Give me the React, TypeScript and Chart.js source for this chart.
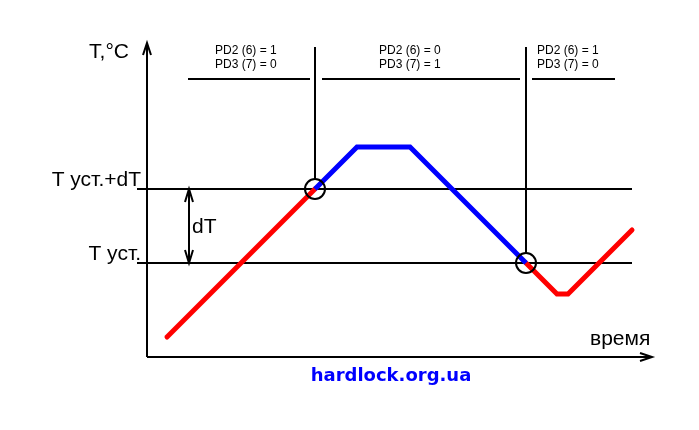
import React, { useEffect, useRef } from "react";
import { Chart, registerables } from "chart.js";

Chart.register(...registerables);

// Diagram values (time units along x, temperature units along y, origin at the axes' corner)
const T_SET = 94;
const DT = 74;
const T_SET_DT = T_SET + DT;

const heatTime1 = [20, 168];
const heatTemp1 = [20, 168];
const coolTime = [168, 210, 263, 379];
const coolTemp = [168, 210, 210, 94];
const heatTime2 = [379, 410, 421, 485];
const heatTemp2 = [94, 63, 63, 127];

const switchTimes = [168, 379];
const switchTemps = [T_SET_DT, T_SET];

const refLineTimes = [-10, 485];
const axisTimeMax = 505;
const axisTempMax = 314;
const stateLineTemp = 278;
const stateLineTop = 310;
const stateSegStart = [41, 175, 385];
const stateSegEnd = [163, 373, 468];
const stateLabelTime = [68, 232, 390];
const statePD2 = ["PD2 (6) = 1", "PD2 (6) = 0", "PD2 (6) = 1"];
const statePD3 = ["PD3 (7) = 0", "PD3 (7) = 1", "PD3 (7) = 0"];
const dTArrowTime = 42;

const levelLabels = ["T уст.+dT", "T уст."];
const levelValues = [T_SET_DT, T_SET];
const yTitle = "T,°C";
const xTitle = "время";
const siteText = "hardlock.org.ua";

const pts = (xs: number[], ys: number[]) => xs.map((x, i) => ({ x, y: ys[i] }));

const FONT = "'Liberation Sans', Arial, sans-serif";

const decorPlugin = {
  id: "decor",
  afterDatasetsDraw(chart: any) {
    const ctx = chart.ctx as CanvasRenderingContext2D;
    const xs = chart.scales.x;
    const ys = chart.scales.y;
    const px = (v: number) => xs.getPixelForValue(v);
    const py = (v: number) => ys.getPixelForValue(v);
    ctx.save();
    ctx.strokeStyle = "#000";
    ctx.lineWidth = 2;
    ctx.lineCap = "butt";
    const poly = (p: number[][]) => {
      ctx.beginPath();
      ctx.moveTo(p[0][0], p[0][1]);
      for (let i = 1; i < p.length; i++) ctx.lineTo(p[i][0], p[i][1]);
      ctx.stroke();
    };
    // y-axis arrow
    const yx = px(0), yt = py(axisTempMax);
    poly([[yx - 4, yt + 12], [yx, yt], [yx + 4, yt + 12]]);
    // x-axis arrow
    const xx = px(axisTimeMax), xy = py(0);
    poly([[xx - 12, xy - 4], [xx, xy], [xx - 12, xy + 4]]);
    // dT arrows
    const ax = px(dTArrowTime);
    const aTop = py(T_SET_DT), aBot = py(T_SET);
    poly([[ax - 4, aTop + 13], [ax, aTop], [ax + 4, aTop + 13]]);
    poly([[ax - 4, aBot - 13], [ax, aBot], [ax + 4, aBot - 13]]);

    // texts
    ctx.fillStyle = "#000";
    ctx.font = `21px ${FONT}`;
    ctx.textBaseline = "alphabetic";
    ctx.textAlign = "right";
    ctx.fillText(yTitle, px(0) - 18, py(axisTempMax) + 15);
    levelLabels.forEach((l, i) => {
      ctx.fillText(l, px(-6), py(levelValues[i]) - 3);
    });
    ctx.textAlign = "left";
    ctx.fillText("dT", ax + 3, py((T_SET + T_SET_DT) / 2) + 7);
    ctx.fillText(xTitle, px(axisTimeMax) - 62, py(0) - 12);

    ctx.font = `12px ${FONT}`;
    ctx.textBaseline = "middle";
    stateLabelTime.forEach((t, i) => {
      ctx.fillText(statePD2[i], px(t), py(stateLineTop) + 4);
      ctx.fillText(statePD3[i], px(t), py(stateLineTop) + 18);
    });

    ctx.font = `bold 18px 'DejaVu Sans', sans-serif`;
    ctx.fillStyle = "#0000ff";
    ctx.textAlign = "center";
    ctx.fillText(siteText, px(244), py(0) + 19);
    ctx.restore();
  },
};

export default function App() {
  const ref = useRef<HTMLCanvasElement>(null);
  useEffect(() => {
    if (!ref.current) return;
    const black = (data: any) => ({
      data,
      borderColor: "#000",
      borderWidth: 2,
      pointRadius: 0,
      showLine: true,
      fill: false,
    });
    const datasets: any[] = [
      {
        data: pts(switchTimes, switchTemps),
        showLine: false,
        pointRadius: 10,
        pointBorderWidth: 2,
        pointBorderColor: "#000",
        pointBackgroundColor: "rgba(0,0,0,0)",
      },
      {
        data: pts(coolTime, coolTemp),
        showLine: true,
        borderColor: "#0000ff",
        borderWidth: 5,
        borderCapStyle: "butt",
        borderJoinStyle: "miter",
        pointRadius: 0,
      },
      {
        data: pts(heatTime1, heatTemp1),
        showLine: true,
        borderColor: "#ff0000",
        borderWidth: 5,
        borderCapStyle: "round",
        pointRadius: 0,
      },
      {
        data: pts(heatTime2, heatTemp2),
        showLine: true,
        borderColor: "#ff0000",
        borderWidth: 5,
        borderCapStyle: "round",
        borderJoinStyle: "miter",
        pointRadius: 0,
      },
      black(pts(refLineTimes, [T_SET_DT, T_SET_DT])),
      black(pts(refLineTimes, [T_SET, T_SET])),
      black(pts([0, 0], [0, axisTempMax])),
      black(pts([0, axisTimeMax], [0, 0])),
      black(pts([dTArrowTime, dTArrowTime], [T_SET, T_SET_DT])),
      black(pts([switchTimes[0], switchTimes[0]], [switchTemps[0] + 10, stateLineTop])),
      black(pts([switchTimes[1], switchTimes[1]], [switchTemps[1] + 10, stateLineTop])),
      ...stateSegStart.map((s, i) => black(pts([s, stateSegEnd[i]], [stateLineTemp, stateLineTemp]))),
    ];
    const chart = new Chart(ref.current, {
      type: "scatter",
      data: { datasets },
      options: {
        responsive: false,
        animation: false,
        layout: { padding: 0, autoPadding: false },
        plugins: { legend: { display: false }, tooltip: { enabled: false } },
        scales: {
          x: { type: "linear", display: false, min: -147, max: 552 },
          y: { type: "linear", display: false, min: -73, max: 357 },
        },
      },
      plugins: [decorPlugin],
    } as any);
    return () => chart.destroy();
  }, []);
  return (
    <div style={{ position: "fixed", left: 0, top: 0, width: 699, height: 430, background: "#fff" }}>
      <canvas ref={ref} width={699} height={430} style={{ width: 699, height: 430, display: "block" }} />
    </div>
  );
}
